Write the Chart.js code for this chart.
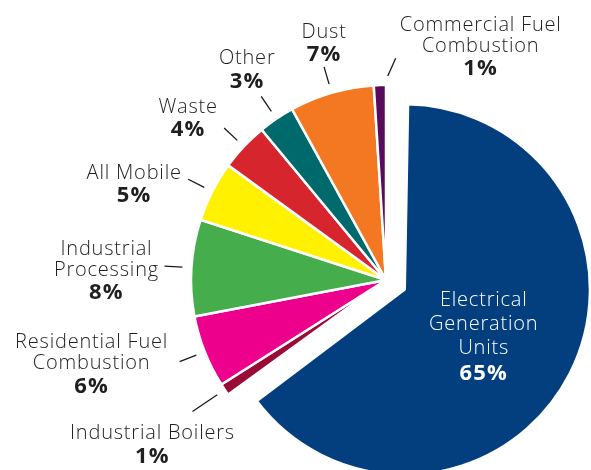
<!DOCTYPE html>
<html>
<head>
<meta charset="utf-8">
<script src="https://cdn.jsdelivr.net/npm/chart.js@4.4.1/dist/chart.umd.min.js"></script>
<style>
  html, body { margin: 0; padding: 0; background: #fff; }
  #wrap { width: 591px; height: 470px; position: relative; }
</style>
</head>
<body>
<div id="wrap"><canvas id="pieChart"></canvas></div>
<script>
// data (clockwise from 12 o'clock)
const categories = ['Electrical Generation Units', 'Industrial Boilers', 'Residential Fuel Combustion',
  'Industrial Processing', 'All Mobile', 'Waste', 'Other', 'Dust', 'Commercial Fuel Combustion'];
const shares = [65, 1, 6, 8, 5, 4, 3, 7, 1];
const sliceColors = ['#033f7e', '#9b0b38', '#ec008c', '#45ad4b', '#fff100', '#d7252e', '#00696b', '#f47721', '#580a5c'];
// how each label is broken into lines
const labelLines = [['Electrical', 'Generation', 'Units'], ['Industrial Boilers'], ['Residential Fuel', 'Combustion'],
  ['Industrial', 'Processing'], ['All Mobile'], ['Waste'], ['Other'], ['Dust'], ['Commercial Fuel', 'Combustion']];

// callout placement: leader length past the rim, text offset from the leader end,
// a1/a2 = small angle nudges (deg) for the leader ends
const callouts = [
  null,
  { len: 39, dx: -40, dy: 22 },
  { len: 27, dx: -88, dy: -19 },
  { len: 27, dx: -58, dy: -17 },
  { len: 27, dx: -54, dy: -6 },
  { len: 27, dx: -36, dy: -21 },
  { len: 27, dx: -14, dy: -38 },
  { len: 27, dx: 0, dy: -35 },
  { len: 27, dx: 85, dy: -33, a1: 2.3, a2: 4.3 }
];

const bigSliceScale = 0.95; // exploded slice is a bit smaller than the rest
const FONT = '"Open Sans", "Noto Sans", sans-serif';

function drawBlock(ctx, lines, pct, x, y, color, gap) {
  ctx.fillStyle = color;
  ctx.textAlign = 'center';
  ctx.textBaseline = 'middle';
  ctx.font = '300 20px ' + FONT;
  ctx.letterSpacing = '0.8px';
  lines.forEach((t, k) => ctx.fillText(t, x, y + k * gap));
  ctx.font = '700 22px ' + FONT;
  ctx.letterSpacing = '1.2px';
  ctx.fillText(pct, x, y + (lines.length - 1) * gap + gap + 2);
  ctx.letterSpacing = '0px';
}

const explodeTrim = {
  id: 'explodeTrim',
  afterDatasetUpdate(chart, args) {
    chart.getDatasetMeta(args.index).data.forEach(arc => {
      const shift = (arc.options.offset || 0) / 4;
      if (shift) arc.outerRadius = arc.outerRadius * bigSliceScale - shift;
    });
  }
};

const calloutPlugin = {
  id: 'callouts',
  afterDatasetsDraw(chart) {
    const ctx = chart.ctx;
    const meta = chart.getDatasetMeta(0);
    ctx.save();
    meta.data.forEach((arc, i) => {
      const { x, y, startAngle, endAngle, outerRadius } =
        arc.getProps(['x', 'y', 'startAngle', 'endAngle', 'outerRadius'], true);
      const mid = (startAngle + endAngle) / 2;
      const lines = labelLines[i];
      const pct = shares[i] + '%';
      if (!callouts[i]) {
        // label inside the exploded slice
        const shift = (arc.options.offset || 0) / 4;
        const d = outerRadius * 0.54 + shift;
        drawBlock(ctx, lines, pct, x + Math.cos(mid) * d, y + Math.sin(mid) * d - 30, '#ffffff', 24);
        return;
      }
      const c = callouts[i];
      const m1 = mid + (c.a1 || 0) * Math.PI / 180;
      const m2 = mid + (c.a2 || 0) * Math.PI / 180;
      const r1 = outerRadius + 9, r2 = outerRadius + c.len;
      const ex = x + Math.cos(m2) * r2, ey = y + Math.sin(m2) * r2;
      ctx.strokeStyle = '#1a1a1a';
      ctx.lineWidth = 1.3;
      ctx.beginPath();
      ctx.moveTo(x + Math.cos(m1) * r1, y + Math.sin(m1) * r1);
      ctx.lineTo(ex, ey);
      ctx.stroke();
      drawBlock(ctx, lines, pct, ex + c.dx, ey + c.dy, '#1f1f1f', 21);
    });
    ctx.restore();
  }
};

new Chart(document.getElementById('pieChart').getContext('2d'), {
  type: 'pie',
  data: {
    labels: categories,
    datasets: [{
      data: shares,
      backgroundColor: sliceColors,
      borderColor: '#ffffff',
      borderWidth: 2.5,
      offset: shares.map((v, i) => i === 0 ? 84 : 0),
      clip: false
    }]
  },
  options: {
    responsive: true,
    maintainAspectRatio: false,
    animation: false,
    radius: 195,
    layout: { padding: { left: 181, right: 0, top: 90, bottom: 0 } },
    plugins: {
      legend: { display: false },
      tooltip: { enabled: false }
    }
  },
  plugins: [explodeTrim, calloutPlugin]
});
</script>
</body>
</html>
